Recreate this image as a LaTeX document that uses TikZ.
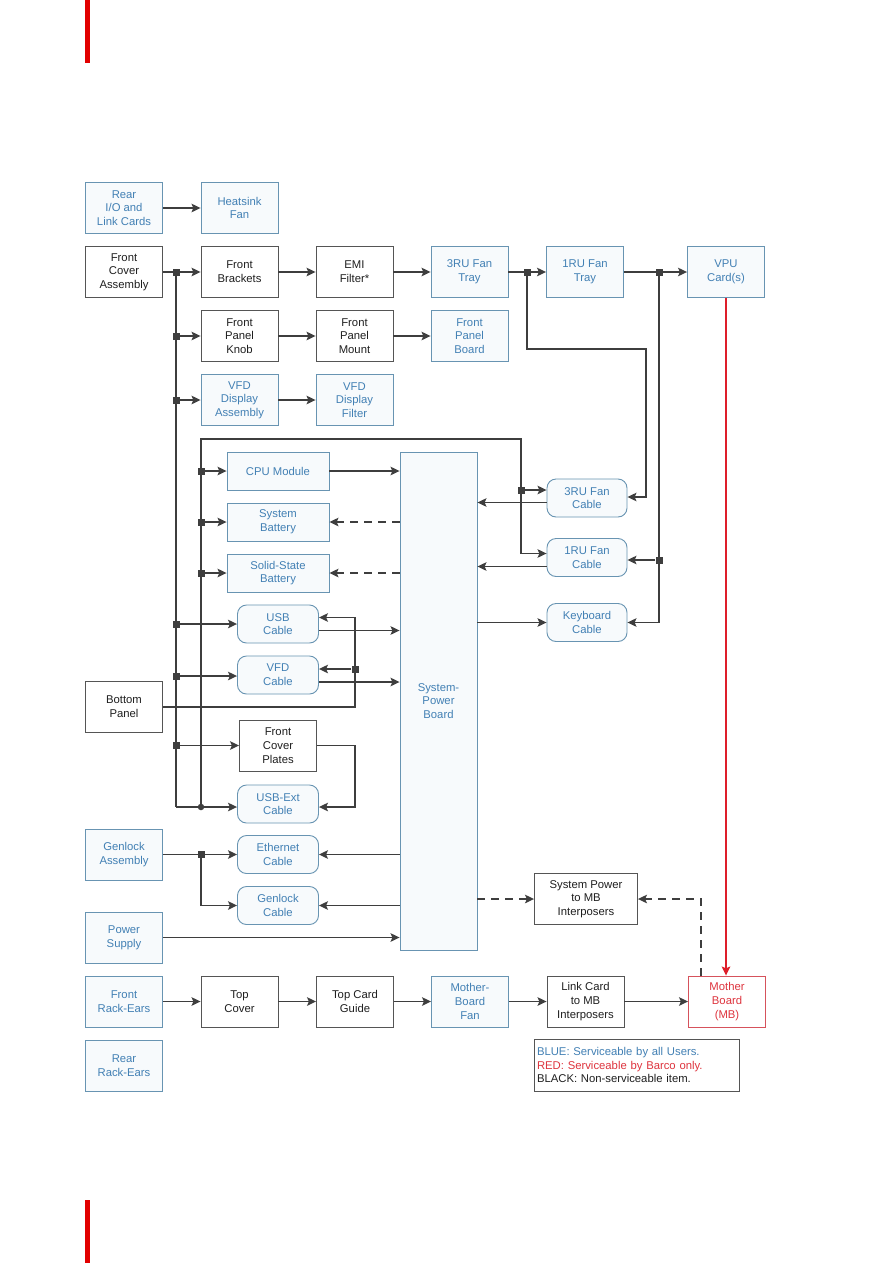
\documentclass[tikz,border=0pt]{standalone}
\usepackage{fontspec}
\setmainfont{Liberation Sans}
\usepackage{xcolor}
\usetikzlibrary{arrows.meta}

\definecolor{lineg}{RGB}{62,62,62}
\definecolor{boxgray}{RGB}{85,85,85}
\definecolor{boxblue}{RGB}{104,148,178}
\definecolor{txtblue}{RGB}{66,128,180}
\definecolor{fillblue}{RGB}{247,250,252}
\definecolor{boxred}{RGB}{214,82,92}
\definecolor{txtred}{RGB}{222,52,62}
\definecolor{wirered}{RGB}{222,30,42}
\definecolor{pagered}{RGB}{226,0,0}

\begin{document}
\begin{tikzpicture}[x=1pt, y=-1pt, font=\fontsize{11.3}{13.7}\selectfont,
  st/.style={draw, align=center, inner sep=0pt, line width=0.9pt,
             minimum width=77pt, minimum height=51pt},
  bk/.style={st, draw=boxgray, text=black!88, fill=white},
  bl/.style={st, draw=boxblue, text=txtblue, fill=fillblue},
  rd/.style={st, draw=boxred, text=txtred, fill=white},
  cab/.style={bl, rounded corners=9pt, minimum width=81pt, minimum height=38pt},
  wide/.style={minimum width=102pt, minimum height=38pt},
  sq/.style={fill=lineg, inner sep=0pt, minimum size=7pt},
  dot/.style={circle, fill=lineg, inner sep=0pt, minimum size=6.5pt},
  ln/.style={line width=1.4pt, draw=lineg},
  arr/.style={ln, -{Stealth[length=9pt, width=8.5pt, inset=1.8pt]}},
  dsh/.style={arr, dash pattern=on 8pt off 6pt},
  redarr/.style={arr, draw=wirered, line width=1.6pt}]

\fill[white] (0,0) rectangle (893,1263);
\useasboundingbox (0,0) rectangle (893,1263);
\fill[pagered] (85,0) rectangle (90,63);
\fill[pagered] (85,1200) rectangle (90,1263);

% top rows
\node[bl] (rear)  at (124,208)   {Rear\\I/O and\\Link Cards};
\node[bl] (heat)  at (239.5,208) {Heatsink\\Fan};
\node[bk] (fca)   at (124,272)   {Front\\Cover\\Assembly};
\node[bk] (fbr)   at (239.5,272) {Front\\Brackets};
\node[bk] (emi)   at (354.5,272) {EMI\\Filter*};
\node[bl] (tray3) at (469.5,272) {3RU Fan\\Tray};
\node[bl] (tray1) at (585,272)   {1RU Fan\\Tray};
\node[bl] (vpu)   at (726,272)   {VPU\\Card(s)};
\node[bk] (knob)  at (239.5,336) {Front\\Panel\\Knob};
\node[bk] (mount) at (354.5,336) {Front\\Panel\\Mount};
\node[bl] (fpb)   at (469.5,336) {Front\\Panel\\Board};
\node[bl] (vfda)  at (239.5,400) {VFD\\Display\\Assembly};
\node[bl] (vfdf)  at (354.5,400) {VFD\\Display\\Filter};

% system-power board and what hangs on it
\node[bl, minimum height=498pt] (spb) at (438.5,701) {System-\\Power\\Board};
\node[bl, wide] (cpu)   at (278,471) {CPU Module};
\node[bl, wide] (sbat)  at (278,522) {System\\Battery};
\node[bl, wide] (ssbat) at (278,573) {Solid-State\\Battery};
\node[cab] (usb)  at (278,624)   {USB\\Cable};
\node[cab] (vfdc) at (278,675)   {VFD\\Cable};
\node[bk]  (bot)  at (124,707)   {Bottom\\Panel};
\node[bk]  (fcp)  at (278,745.5) {Front\\Cover\\Plates};
\node[cab] (usbx) at (278,804)   {USB-Ext\\Cable};
\node[bl]  (genA) at (124,854.5) {Genlock\\Assembly};
\node[cab] (eth)  at (278,854.5) {Ethernet\\Cable};
\node[cab] (genC) at (278,905.5) {Genlock\\Cable};
\node[bl]  (psu)  at (124,937.5) {Power\\Supply};
\node[cab, minimum width=80pt] (cab3) at (587,498)   {3RU Fan\\Cable};
\node[cab, minimum width=80pt] (cab1) at (587,557.5) {1RU Fan\\Cable};
\node[cab, minimum width=80pt] (kbd)  at (587,622.5) {Keyboard\\Cable};
\node[bk, minimum width=103pt] (spmb) at (586,899) {System Power\\to MB\\Interposers};

% bottom row
\node[bl] (fre)  at (124,1001.5)   {Front\\Rack-Ears};
\node[bk] (tcv)  at (239.5,1001.5) {Top\\Cover};
\node[bk] (tcg)  at (355,1001.5)   {Top Card\\Guide};
\node[bl] (mbf)  at (470,1001.5)   {Mother-\\Board\\Fan};
\node[bk] (lcmb) at (585.5,1001.5) {Link Card\\to MB\\Interposers};
\node[rd] (mb)   at (727,1001.5)   {Mother\\Board\\(MB)};
\node[bl] (rre)  at (124,1065.5)   {Rear\\Rack-Ears};
\node[bk, align=left, inner sep=2.5pt, text width=200pt, minimum height=52pt] (leg) at (637,1065)
  {\textcolor{txtblue}{BLUE: Serviceable by all Users.}\\
   \textcolor{txtred}{RED: Serviceable by Barco only.}\\
   BLACK: Non-serviceable item.};

% junctions
\node[sq] (jA) at (176,272) {};
\node[sq] (jB) at (176,336) {};
\node[sq] (jC) at (176,400) {};
\node[sq] (jD) at (176,624) {};
\node[sq] (jE) at (176,676) {};
\node[sq] (jF) at (176,745.5) {};
\node[sq] (jG) at (201,471) {};
\node[sq] (jH) at (201,522) {};
\node[sq] (jI) at (201,573) {};
\node[dot] (jJ) at (201,807) {};
\node[sq] (jK) at (521,490) {};
\node[sq] (jL) at (527,272) {};
\node[sq] (jM) at (659,272) {};
\node[sq] (jN) at (659,560) {};
\node[sq] (jP) at (355,669) {};
\node[sq] (jQ) at (201,854.5) {};
\coordinate (cO)  at (176,807);
\coordinate (cT)  at (201,439);
\coordinate (cR)  at (521,439);
\coordinate (cK)  at (521,553.5);
\coordinate (cL1) at (527,349);
\coordinate (cL2) at (646,349);
\coordinate (cL3) at (646,497);
\coordinate (cM)  at (659,622.5);
\coordinate (cB)  at (355,707);
\coordinate (cU)  at (355,617.5);
\coordinate (cP1) at (355,745.5);
\coordinate (cP2) at (355,807);
\coordinate (cG)  at (201,905.5);
\coordinate (cS)  at (701,899);
\coordinate (o3) at ([yshift=-4.5pt]cab3.west);
\coordinate (o1) at ([yshift=-9pt]cab1.west);
\coordinate (ou) at ([yshift=-6.5pt]usb.east);
\coordinate (ov) at ([yshift=-7pt]vfdc.east);

% top chains
\draw[arr] (rear) -- (heat);
\draw[arr] (fca) -- (fbr);
\draw[arr] (fbr) -- (emi);
\draw[arr] (emi) -- (tray3);
\draw[arr] (tray3) -- (tray1);
\draw[arr] (tray1) -- (vpu);
\draw[arr] (knob) -- (mount);
\draw[arr] (mount) -- (fpb);
\draw[arr] (vfda) -- (vfdf);
\draw[redarr] (vpu.south) -- (vpu.south |- mb.north);

% outer feed
\draw[ln] (jA) -- (cO);
\draw[arr] (cO) -- (cO -| usbx.west);
\draw[arr] (jB) -- (knob.west);
\draw[arr] (jC) -- (vfda.west);
\draw[arr] (jD) -- (jD -| usb.west);
\draw[arr] (jE) -- (jE -| vfdc.west);
\draw[arr] (jF) -- (fcp.west);

% inner feed to the fan cables
\draw[arr] (jJ) -- (cT) -- (cR) -- (cK) -- (cK -| cab1.west);
\draw[arr] (jK) -- (jK -| cab3.west);
\draw[arr] (jG) -- (cpu.west);
\draw[arr] (jH) -- (sbat.west);
\draw[arr] (jI) -- (ssbat.west);
\draw[arr] (jL) -- (cL1) -- (cL2) -- (cL3) -- (cL3 -| cab3.east);
\draw[arr] (jM) -- (cM) -- (kbd.east);
\draw[arr] (jN) -- (jN -| cab1.east);

% into / out of the board
\draw[arr] (cpu.east) -- (cpu.east -| spb.west);
\draw[dsh] (sbat.east -| spb.west) -- (sbat.east);
\draw[dsh] (ssbat.east -| spb.west) -- (ssbat.east);
\draw[arr] (ou) -- (ou -| spb.west);
\draw[arr] (ov) -- (ov -| spb.west);
\draw[arr] (o3) -- (o3 -| spb.east);
\draw[arr] (o1) -- (o1 -| spb.east);
\draw[arr] (kbd.west -| spb.east) -- (kbd.west);
\draw[arr] (eth.east -| spb.west) -- (eth.east);
\draw[arr] (genC.east -| spb.west) -- (genC.east);
\draw[arr] (psu.east) -- (psu.east -| spb.west);
\draw[dsh] (spmb.west -| spb.east) -- (spmb.west);
\draw[dsh] (cS |- mb.north) -- (cS) -- (spmb.east);

% bottom panel, cover plates, genlock
\draw[arr] (bot.east) -- (cB) -- (cU) -- (cU -| usb.east);
\draw[arr] (jP) -- (jP -| vfdc.east);
\draw[arr] (fcp.east) -- (cP1) -- (cP2) -- (cP2 -| usbx.east);
\draw[arr] (genA.east) -- (eth.west);
\draw[arr] (jQ) -- (cG) -- (genC.west);

% bottom chain
\draw[arr] (fre) -- (tcv);
\draw[arr] (tcv) -- (tcg);
\draw[arr] (tcg) -- (mbf);
\draw[arr] (mbf) -- (lcmb);
\draw[arr] (lcmb) -- (mb);
\end{tikzpicture}
\end{document}
